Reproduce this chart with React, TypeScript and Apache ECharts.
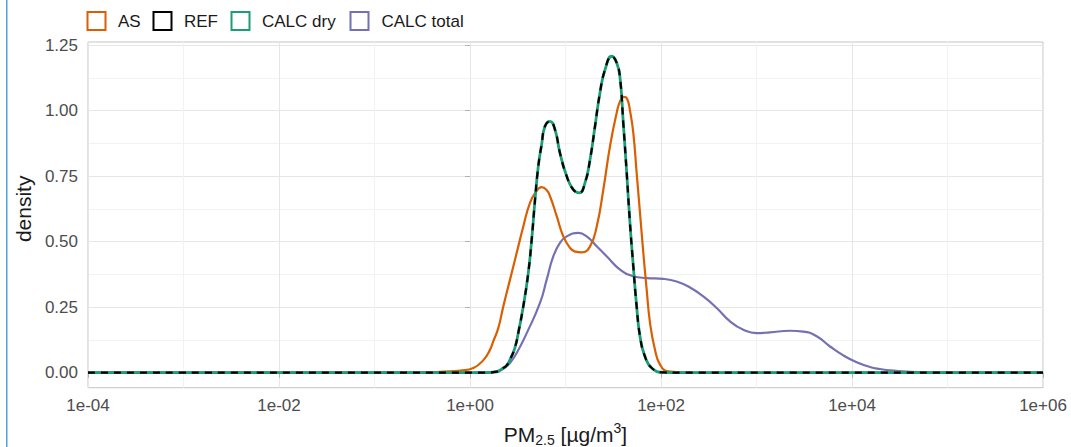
import React, { useEffect, useRef } from "react";
import * as echarts from "echarts";

const FONT = "'Liberation Sans', Arial, sans-serif";

const seriesNames = ["AS", "REF", "CALC dry", "CALC total"];
const seriesColors = ["#D95F02", "#000000", "#1B9E77", "#7570B3"];

// x values are log10(PM2.5 in µg/m3); y values are density
const asLog = [-4, -1, -0.5, -0.28, -0.1, 0.035, 0.14, 0.21, 0.244, 0.296, 0.349, 0.419, 0.489, 0.558, 0.628, 0.69, 0.75, 0.8, 0.838, 0.908, 0.977, 1.047, 1.1, 1.17, 1.257, 1.327, 1.396, 1.466, 1.536, 1.571, 1.61, 1.645, 1.675, 1.71, 1.745, 1.78, 1.815, 1.85, 1.885, 1.937, 1.99, 2.076, 2.3, 6];
const asDensity = [0, 0, 0.001, 0.004, 0.008, 0.018, 0.048, 0.088, 0.12, 0.17, 0.253, 0.355, 0.457, 0.558, 0.648, 0.69, 0.708, 0.698, 0.673, 0.597, 0.52, 0.476, 0.462, 0.459, 0.482, 0.558, 0.698, 0.864, 0.991, 1.035, 1.052, 1.045, 1.0, 0.915, 0.762, 0.61, 0.457, 0.317, 0.19, 0.088, 0.031, 0.005, 0, 0];

const dryLog = [-4, 0.15, 0.28, 0.349, 0.384, 0.419, 0.47, 0.51, 0.558, 0.61, 0.646, 0.681, 0.715, 0.75, 0.785, 0.838, 0.89, 0.942, 1.013, 1.082, 1.145, 1.204, 1.257, 1.309, 1.361, 1.414, 1.484, 1.536, 1.571, 1.605, 1.641, 1.675, 1.71, 1.745, 1.78, 1.832, 1.903, 2.024, 2.2, 6];
const dryDensity = [0, 0, 0.004, 0.018, 0.028, 0.05, 0.095, 0.16, 0.253, 0.38, 0.508, 0.66, 0.787, 0.87, 0.94, 0.959, 0.927, 0.838, 0.749, 0.698, 0.686, 0.724, 0.813, 0.94, 1.068, 1.156, 1.207, 1.182, 1.125, 0.953, 0.762, 0.571, 0.406, 0.253, 0.139, 0.062, 0.018, 0.001, 0, 0];

const refLog = [-4, 0.15, 0.28, 0.349, 0.384, 0.419, 0.47, 0.51, 0.558, 0.61, 0.646, 0.681, 0.715, 0.75, 0.785, 0.838, 0.89, 0.942, 1.013, 1.082, 1.145, 1.204, 1.257, 1.309, 1.361, 1.414, 1.484, 1.536, 1.571, 1.605, 1.641, 1.675, 1.71, 1.745, 1.78, 1.832, 1.903, 2.024, 2.2, 6];
const refDensity = [0, 0, 0.004, 0.018, 0.028, 0.05, 0.095, 0.16, 0.253, 0.38, 0.508, 0.66, 0.787, 0.87, 0.94, 0.959, 0.927, 0.838, 0.749, 0.698, 0.686, 0.724, 0.813, 0.94, 1.068, 1.156, 1.207, 1.182, 1.125, 0.953, 0.762, 0.571, 0.406, 0.253, 0.139, 0.062, 0.018, 0.001, 0, 0];

const totalLog = [-4, 0.15, 0.28, 0.314, 0.384, 0.419, 0.489, 0.594, 0.733, 0.803, 0.872, 0.942, 1.013, 1.134, 1.222, 1.327, 1.431, 1.571, 1.71, 1.85, 2.024, 2.164, 2.304, 2.443, 2.583, 2.723, 2.862, 3.002, 3.141, 3.351, 3.49, 3.63, 3.77, 3.909, 4.049, 4.188, 4.293, 4.398, 4.573, 4.782, 5.2, 6];
const totalDensity = [0, 0, 0.002, 0.008, 0.024, 0.037, 0.075, 0.151, 0.266, 0.355, 0.444, 0.495, 0.52, 0.533, 0.52, 0.482, 0.444, 0.393, 0.368, 0.361, 0.358, 0.348, 0.325, 0.291, 0.247, 0.196, 0.164, 0.151, 0.154, 0.16, 0.157, 0.139, 0.1, 0.066, 0.04, 0.022, 0.014, 0.009, 0.004, 0.001, 0, 0];

const toPairs = (xs: number[], ys: number[]) => xs.map((x, i) => [x, ys[i]]);

const fmtExp = (v: number) => {
  const e = Math.round(v);
  return "1e" + (e < 0 ? "-" : "+") + String(Math.abs(e)).padStart(2, "0");
};

export default function App() {
  const ref = useRef<HTMLDivElement>(null);
  useEffect(() => {
    document.body.style.margin = "0";
    const chart = echarts.init(ref.current!, null, { renderer: "svg" });
    const lineBase = {
      type: "line",
      xAxisIndex: 0,
      yAxisIndex: 0,
      showSymbol: false,
      smooth: 0.5,
      silent: true,
    };
    const legendX = [87.5, 153.5, 231.5, 350.5];
    const legendTextX = [118, 184, 262, 381.5];
    const legendGraphics: any[] = [];
    seriesNames.forEach((n, i) => {
      legendGraphics.push({
        type: "rect",
        shape: { x: legendX[i], y: 12, width: 18, height: 18 },
        style: { fill: "#fff", stroke: seriesColors[i], lineWidth: 2 },
      });
      legendGraphics.push({
        type: "text",
        x: legendTextX[i],
        y: 21,
        style: { text: n, fontSize: 17, fontFamily: FONT, fill: "#1a1a1a", verticalAlign: "middle", align: "left" },
      });
    });
    chart.setOption({
      animation: false,
      backgroundColor: "#fff",
      grid: [
        { left: 88, top: 42, width: 955, height: 345.7, show: true, borderColor: "#c4c4c4", borderWidth: 1, backgroundColor: "transparent" },
        { left: 88, top: 45, width: 955, height: 327.7 },
      ],
      xAxis: [
        {
          gridIndex: 0,
          type: "value",
          min: -4,
          max: 6,
          interval: 2,
          axisLine: { show: false },
          axisTick: { show: true, length: 5, lineStyle: { color: "#b3b3b3" } },
          axisLabel: { formatter: fmtExp, fontSize: 17, fontFamily: FONT, color: "#4d4d4d", margin: 9 },
          splitLine: { show: true, lineStyle: { color: "#e6e6e6", width: 1 } },
          minorTick: { show: false, splitNumber: 2 },
          minorSplitLine: { show: true, lineStyle: { color: "#f2f2f2", width: 1 } },
        },
        { gridIndex: 1, type: "value", min: -4, max: 6, show: false },
      ],
      yAxis: [
        { gridIndex: 0, type: "value", min: -0.0572, max: 1.2614, show: false, splitLine: { show: false } },
        {
          gridIndex: 1,
          type: "value",
          min: 0,
          max: 1.25,
          interval: 0.25,
          axisLine: { show: false },
          axisTick: { show: true, length: 5, lineStyle: { color: "#b3b3b3" } },
          axisLabel: { formatter: (v: number) => v.toFixed(2), fontSize: 17, fontFamily: FONT, color: "#4d4d4d", margin: 10 },
          splitLine: { show: true, lineStyle: { color: "#e6e6e6", width: 1 } },
          minorTick: { show: false, splitNumber: 2 },
          minorSplitLine: { show: true, lineStyle: { color: "#f2f2f2", width: 1 } },
          name: "density",
          nameLocation: "middle",
          nameRotate: 90,
          nameGap: 50,
          nameTextStyle: { fontSize: 21, fontFamily: FONT, color: "#1a1a1a" },
        },
      ],
      series: [
        { ...lineBase, name: seriesNames[3], data: toPairs(totalLog, totalDensity), lineStyle: { color: seriesColors[3], width: 2.2 }, z: 2 },
        { ...lineBase, name: seriesNames[0], data: toPairs(asLog, asDensity), lineStyle: { color: seriesColors[0], width: 2.2 }, z: 3 },
        { ...lineBase, name: seriesNames[2], data: toPairs(dryLog, dryDensity), lineStyle: { color: seriesColors[2], width: 2.8 }, z: 4 },
        { ...lineBase, name: seriesNames[1], data: toPairs(refLog, refDensity), lineStyle: { color: seriesColors[1], width: 2.2, type: [7, 6] }, z: 5 },
      ],
      graphic: [
        { type: "line", shape: { x1: 6.75, y1: 0, x2: 6.75, y2: 447 }, style: { stroke: "#4f9fe3", lineWidth: 1.5 } },
        ...legendGraphics,
        {
          type: "text",
          x: 565.5,
          y: 434,
          style: {
            text: "{m|PM}{s|2.5}{m| [µg/m}{p|3}{m|]}",
            align: "center",
            verticalAlign: "middle",
            rich: {
              m: { fontSize: 21, fontFamily: FONT, fill: "#1a1a1a", lineHeight: 26 },
              s: { fontSize: 14, fontFamily: FONT, fill: "#1a1a1a", lineHeight: 14, verticalAlign: "bottom" },
              p: { fontSize: 14, fontFamily: FONT, fill: "#1a1a1a", lineHeight: 14, verticalAlign: "top" },
            },
          },
        },
      ],
    });
    return () => chart.dispose();
  }, []);
  return <div ref={ref} style={{ width: 1071, height: 447 }} />;
}
